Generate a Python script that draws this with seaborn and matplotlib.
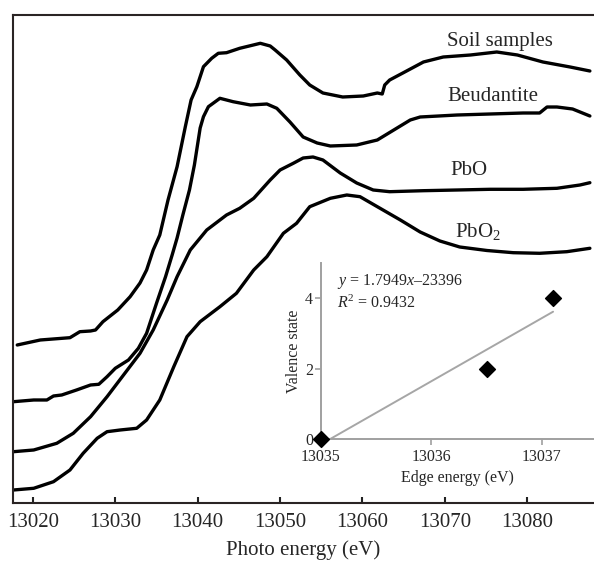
import numpy as np
import pandas as pd
import matplotlib
matplotlib.use("Agg")
import matplotlib.pyplot as plt
import seaborn as sns

# XANES spectra (photon energy in eV, normalized absorption + vertical offset)
soil_energy = [13018.1, 13020.9, 13024.5, 13025.7, 13027.0, 13027.6, 13028.5, 13030.3,
               13031.8, 13033.0, 13033.8, 13034.6, 13035.4, 13036.4, 13037.5, 13038.5,
               13039.2, 13039.9, 13040.7, 13041.7, 13042.5, 13043.5, 13045.1, 13047.6,
               13048.8, 13049.4, 13050.8, 13052.4, 13053.6, 13055.2, 13057.6, 13060.1,
               13061.8, 13062.4, 13062.7, 13063.3, 13064.9, 13067.4, 13069.8, 13073.1,
               13076.3, 13078.8, 13081.9, 13085.2, 13087.6]
soil_abs = [1.583, 1.633, 1.656, 1.716, 1.723, 1.733, 1.816, 1.933,
            2.066, 2.203, 2.333, 2.533, 2.683, 3.033, 3.366, 3.766,
            4.033, 4.166, 4.366, 4.450, 4.500, 4.506, 4.550, 4.600,
            4.573, 4.533, 4.433, 4.283, 4.183, 4.103, 4.063, 4.073,
            4.103, 4.093, 4.183, 4.233, 4.303, 4.413, 4.463, 4.483,
            4.513, 4.483, 4.413, 4.363, 4.323]

beud_energy = [13017.65, 13020.1, 13021.7, 13022.5, 13023.5, 13025.3, 13027.0, 13028.0,
               13029.0, 13030.0, 13031.6, 13032.8, 13033.8, 13035.0, 13036.1, 13036.9,
               13037.5, 13038.2, 13039.0, 13039.6, 13040.3, 13040.7, 13041.3, 13042.7,
               13044.3, 13046.4, 13048.4, 13049.6, 13051.2, 13052.8, 13054.5, 13056.1,
               13059.3, 13061.8, 13064.2, 13065.8, 13067.0, 13071.5, 13075.5, 13079.5,
               13081.5, 13082.4, 13083.6, 13085.5, 13087.6]
beud_abs = [1.016, 1.033, 1.033, 1.073, 1.083, 1.133, 1.183, 1.190,
            1.266, 1.350, 1.433, 1.550, 1.700, 2.000, 2.266, 2.483,
            2.653, 2.883, 3.133, 3.383, 3.753, 3.866, 3.966, 4.050,
            4.016, 3.983, 3.993, 3.950, 3.813, 3.663, 3.603, 3.573,
            3.583, 3.633, 3.753, 3.833, 3.863, 3.883, 3.893, 3.903,
            3.903, 3.963, 3.963, 3.943, 3.873]

pbo_energy = [13017.65, 13020.1, 13022.9, 13024.9, 13027.0, 13029.0, 13031.0, 13033.0,
              13034.6, 13036.3, 13037.5, 13039.1, 13041.1, 13043.5, 13045.1, 13046.8,
              13048.8, 13050.0, 13051.6, 13052.8, 13054.0, 13055.2, 13057.3, 13059.3,
              13061.3, 13063.3, 13067.4, 13071.5, 13075.5, 13079.5, 13083.6, 13086.4,
              13087.6]
pbo_abs = [0.516, 0.533, 0.600, 0.700, 0.866, 1.066, 1.283, 1.500,
           1.733, 2.033, 2.266, 2.533, 2.733, 2.883, 2.950, 3.050,
           3.233, 3.333, 3.400, 3.453, 3.463, 3.433, 3.303, 3.203,
           3.133, 3.116, 3.126, 3.133, 3.140, 3.140, 3.150, 3.183,
           3.206]

pbo2_energy = [13017.65, 13020.1, 13022.5, 13024.5, 13026.1, 13027.8, 13029.0, 13030.6,
               13032.6, 13033.8, 13035.4, 13037.1, 13038.7, 13040.3, 13042.7, 13044.7,
               13046.8, 13048.4, 13050.4, 13052.0, 13053.6, 13056.1, 13058.1, 13059.7,
               13061.8, 13064.6, 13067.0, 13069.4, 13071.8, 13075.1, 13078.3, 13081.5,
               13084.8, 13087.6]
pbo2_abs = [0.133, 0.150, 0.216, 0.333, 0.500, 0.650, 0.716, 0.733,
            0.750, 0.833, 1.033, 1.366, 1.666, 1.816, 1.966, 2.100,
            2.333, 2.466, 2.700, 2.800, 2.966, 3.050, 3.083, 3.066,
            2.966, 2.833, 2.713, 2.623, 2.563, 2.528, 2.506, 2.500,
            2.516, 2.550]

sample_names = ["Soil samples", "Beudantite", "PbO", "PbO$_2$"]
label_pos = [(13076.7, 4.62), (13075.8, 4.07), (13072.9, 3.33), (13074.0, 2.72)]

# inset: edge energy vs valence state
edge_energy = [13035.0, 13036.5, 13037.1]
valence = [0, 2, 4]

sns.set_style("ticks")
plt.rcParams["font.family"] = ["Liberation Serif", "DejaVu Serif"]
plt.rcParams["mathtext.fontset"] = "custom"
plt.rcParams["mathtext.rm"] = "Liberation Serif"
plt.rcParams["mathtext.it"] = "Liberation Serif:italic"

fig = plt.figure(figsize=(5.94, 5.66), dpi=100)
ax = fig.add_axes([0.0214, 0.1108, 0.9786, 0.8627])

spectra = [(soil_energy, soil_abs), (beud_energy, beud_abs),
           (pbo_energy, pbo_abs), (pbo2_energy, pbo2_abs)]
for (e, a) in spectra:
    sns.lineplot(x=e, y=a, ax=ax, color="black", lw=2.4, sort=False,
                 estimator=None, solid_joinstyle="round", solid_capstyle="round")

for name, (lx, ly) in zip(sample_names, label_pos):
    ax.text(lx, ly, name, fontsize=15, ha="center", va="center")

ax.set_xlim(13017.55, 13088.1)
ax.set_ylim(0, 4.883)
ax.set_xticks([13020, 13030, 13040, 13050, 13060, 13070, 13080])
ax.set_yticks([])
ax.tick_params(axis="x", direction="in", length=4, width=1.5, labelsize=15, pad=7, color="#222")
ax.set_xlabel("Photo energy (eV)", fontsize=15, labelpad=6)
ax.set_ylabel("")
for s in ["top", "left", "bottom"]:
    ax.spines[s].set_color("#2a2424")
    ax.spines[s].set_linewidth(1.5)
ax.spines["right"].set_visible(False)

# inset
ax2 = fig.add_axes([0.540, 0.2244, 0.460, 0.311])
ax2.set_facecolor("none")
sns.regplot(x=edge_energy, y=valence, ax=ax2, ci=None, truncate=True, marker="D",
            scatter_kws={"color": "black", "s": 65, "alpha": 1, "clip_on": False, "zorder": 5},
            line_kws={"color": "#a6a6a6", "lw": 1.4})
ax2.set_xlim(13035, 13037.47)
ax2.set_ylim(0, 5)
ax2.set_xticks([13035, 13036, 13037])
ax2.set_xticklabels(["13035", "13036", "13037"])
ax2.set_yticks([0, 2, 4])
ax2.tick_params(length=4, width=1.2, color="#a0a0a0", labelsize=11.5, pad=1.5)
ax2.tick_params(axis="x", pad=3.5)
ax2.set_xlabel("Edge energy (eV)", fontsize=11.5, labelpad=3)
ax2.set_ylabel("Valence state", fontsize=11.5, labelpad=2)
for s in ["left", "bottom"]:
    ax2.spines[s].set_color("#a0a0a0")
    ax2.spines[s].set_linewidth(1.4)
for s in ["top", "right"]:
    ax2.spines[s].set_visible(False)

ax2.text(0.061, 0.894, r"$y$ = 1.7949$x$–23396", transform=ax2.transAxes,
         fontsize=11.5, va="center", ha="left")
ax2.text(0.061, 0.771, r"$R$$^{\mathrm{2}}$ = 0.9432", transform=ax2.transAxes,
         fontsize=11.5, va="center", ha="left")

fig.savefig("out.png", dpi=100)
